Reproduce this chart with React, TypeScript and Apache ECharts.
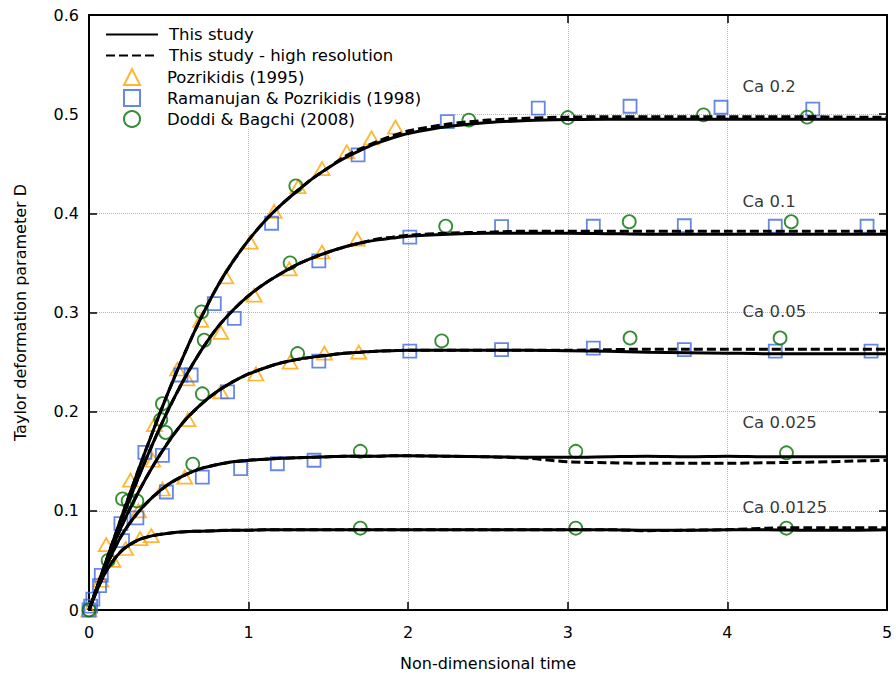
import React, { useEffect, useRef } from "react";
import * as echarts from "echarts";

// Non-dimensional time samples shared by every simulation curve
const timeGrid = [
  0, 0.1, 0.2, 0.3, 0.4, 0.5, 0.6, 0.7, 0.8, 0.9, 1.0, 1.1, 1.2, 1.3, 1.4, 1.5, 1.6, 1.7, 1.8, 1.9, 2.0,
  2.25, 2.5, 2.75, 3.0, 3.25, 3.5, 3.75, 4.0, 4.25, 4.5, 4.75, 5.0,
];

// Taylor deformation D for each capillary number (standard resolution)
const ca02Solid = [
  0, 0.046, 0.092, 0.137, 0.180, 0.221, 0.259, 0.294, 0.325, 0.351, 0.373, 0.392, 0.408, 0.422, 0.435, 0.446, 0.4555, 0.4635, 0.4705, 0.476, 0.4805,
  0.4875, 0.4915, 0.4935, 0.4945, 0.495, 0.495, 0.495, 0.495, 0.495, 0.495, 0.495, 0.495,
];
const ca01Solid = [
  0, 0.045, 0.089, 0.130, 0.168, 0.203, 0.234, 0.261, 0.284, 0.302, 0.317, 0.329, 0.339, 0.348, 0.355, 0.361, 0.366, 0.370, 0.373, 0.375, 0.377,
  0.379, 0.380, 0.380, 0.380, 0.3795, 0.379, 0.379, 0.379, 0.379, 0.379, 0.379, 0.379,
];
const ca005Solid = [
  0, 0.044, 0.083, 0.116, 0.145, 0.170, 0.191, 0.207, 0.220, 0.230, 0.238, 0.244, 0.249, 0.2525, 0.255, 0.257, 0.259, 0.260, 0.261, 0.2615, 0.262,
  0.262, 0.262, 0.262, 0.2615, 0.261, 0.260, 0.2595, 0.259, 0.2585, 0.2585, 0.2585, 0.2585,
];
const ca0025Solid = [
  0, 0.041, 0.074, 0.097, 0.114, 0.127, 0.136, 0.1425, 0.1465, 0.1495, 0.151, 0.152, 0.153, 0.1535, 0.154, 0.1545, 0.155, 0.155, 0.155, 0.1555, 0.1555,
  0.155, 0.1545, 0.154, 0.154, 0.1545, 0.155, 0.1545, 0.155, 0.1545, 0.1545, 0.1545, 0.1545,
];
const ca00125Solid = [
  0, 0.037, 0.059, 0.070, 0.075, 0.0775, 0.079, 0.0795, 0.080, 0.0805, 0.0805, 0.081, 0.081, 0.081, 0.081, 0.081, 0.081, 0.081, 0.081, 0.081, 0.081,
  0.081, 0.081, 0.081, 0.081, 0.081, 0.0805, 0.0805, 0.081, 0.081, 0.0805, 0.0805, 0.081,
];

// Same runs at high resolution
const ca02Dashed = [
  0, 0.046, 0.092, 0.137, 0.180, 0.221, 0.259, 0.294, 0.325, 0.351, 0.373, 0.392, 0.408, 0.422, 0.435, 0.446, 0.457, 0.465, 0.472, 0.478, 0.483,
  0.490, 0.494, 0.496, 0.497, 0.4975, 0.4975, 0.4975, 0.4975, 0.4975, 0.4975, 0.497, 0.497,
];
const ca01Dashed = [
  0, 0.045, 0.089, 0.130, 0.168, 0.203, 0.234, 0.261, 0.284, 0.302, 0.317, 0.329, 0.339, 0.348, 0.355, 0.361, 0.366, 0.370, 0.374, 0.376, 0.378,
  0.380, 0.381, 0.382, 0.382, 0.382, 0.382, 0.382, 0.382, 0.382, 0.382, 0.382, 0.382,
];
const ca005Dashed = [
  0, 0.044, 0.083, 0.116, 0.145, 0.170, 0.191, 0.207, 0.220, 0.230, 0.238, 0.244, 0.249, 0.2525, 0.255, 0.257, 0.259, 0.260, 0.261, 0.2615, 0.262,
  0.262, 0.262, 0.262, 0.262, 0.2625, 0.263, 0.263, 0.263, 0.263, 0.263, 0.263, 0.263,
];
const ca0025Dashed = [
  0, 0.041, 0.074, 0.097, 0.114, 0.127, 0.136, 0.1425, 0.1465, 0.1495, 0.151, 0.152, 0.153, 0.1535, 0.154, 0.1545, 0.155, 0.155, 0.155, 0.1555, 0.1555,
  0.155, 0.1545, 0.153, 0.1495, 0.1485, 0.148, 0.148, 0.148, 0.1485, 0.149, 0.150, 0.151,
];
const ca00125Dashed = [
  0, 0.037, 0.059, 0.070, 0.075, 0.0775, 0.079, 0.0795, 0.080, 0.0805, 0.0805, 0.081, 0.081, 0.081, 0.081, 0.081, 0.081, 0.081, 0.081, 0.081, 0.081,
  0.081, 0.081, 0.081, 0.081, 0.081, 0.080, 0.0805, 0.081, 0.0825, 0.083, 0.083, 0.083,
];

// Reference data sets: [time, D]
const pozrikidis1995 = [
  [0, 0], [0.075, 0.030], [0.108, 0.066], [0.15, 0.050], [0.23, 0.062], [0.26, 0.131], [0.31, 0.100],
  [0.32, 0.072], [0.39, 0.075], [0.40, 0.151], [0.41, 0.187], [0.46, 0.122], [0.555, 0.243], [0.60, 0.134],
  [0.614, 0.233], [0.62, 0.192], [0.70, 0.292], [0.826, 0.280], [0.826, 0.220], [0.857, 0.336], [1.01, 0.371],
  [1.035, 0.3175], [1.046, 0.238], [1.16, 0.402], [1.255, 0.344], [1.26, 0.250], [1.31, 0.427], [1.46, 0.445],
  [1.46, 0.361], [1.475, 0.259], [1.615, 0.462], [1.68, 0.374], [1.69, 0.260], [1.77, 0.476], [1.92, 0.487],
];
const ramanujan1998 = [
  [0, 0], [0.01, 0.004], [0.024, 0.011], [0.066, 0.0245], [0.077, 0.035], [0.20, 0.087], [0.21, 0.070],
  [0.30, 0.093], [0.35, 0.159], [0.46, 0.156], [0.485, 0.119], [0.576, 0.237], [0.64, 0.237], [0.71, 0.134],
  [0.785, 0.309], [0.868, 0.220], [0.91, 0.294], [0.95, 0.1425], [1.144, 0.390], [1.18, 0.1475], [1.41, 0.151],
  [1.44, 0.352], [1.44, 0.251], [1.686, 0.459], [2.01, 0.376], [2.01, 0.261], [2.245, 0.4925], [2.585, 0.3865],
  [2.585, 0.2626], [2.815, 0.506], [3.16, 0.387], [3.16, 0.264], [3.39, 0.508], [3.73, 0.3875], [3.73, 0.2626],
  [3.96, 0.507], [4.30, 0.387], [4.30, 0.261], [4.535, 0.505], [4.875, 0.387], [4.90, 0.261],
];
const doddiBagchi2008 = [
  [0, 0], [0.12, 0.050], [0.21, 0.112], [0.245, 0.110], [0.30, 0.110], [0.45, 0.192], [0.46, 0.208],
  [0.48, 0.179], [0.65, 0.147], [0.705, 0.3006], [0.71, 0.218], [0.722, 0.272], [1.26, 0.350], [1.296, 0.4276],
  [1.307, 0.2586], [1.70, 0.160], [1.70, 0.0825], [2.21, 0.2713], [2.235, 0.387], [2.38, 0.494], [3.0, 0.4966],
  [3.05, 0.160], [3.05, 0.0825], [3.385, 0.3915], [3.39, 0.2743], [3.85, 0.4993], [4.33, 0.2743], [4.37, 0.1585],
  [4.37, 0.0825], [4.40, 0.3915], [4.5, 0.497],
];

// Curve annotations
const caLabels = ["Ca 0.2", "Ca 0.1", "Ca 0.05", "Ca 0.025", "Ca 0.0125"];
const caLabelTime = [4.095, 4.095, 4.095, 4.095, 4.095];
const caLabelD = [0.528, 0.4115, 0.301, 0.189, 0.1033];

const lineLegendNames = ["This study", "This study - high resolution"];
const markerLegendNames = ["Pozrikidis (1995)", "Ramanujan & Pozrikidis (1998)", "Doddi & Bagchi (2008)"];

const FONT = "DejaVu Sans";

const zipTime = (vals: number[]) => timeGrid.map((t, i) => [t, vals[i]]);

export default function App() {
  const ref = useRef<HTMLDivElement>(null);

  useEffect(() => {
    document.body.style.margin = "0";
    const chart = echarts.init(ref.current!, null, { renderer: "svg" });

    const solidCurves = [ca02Solid, ca01Solid, ca005Solid, ca0025Solid, ca00125Solid];
    const dashedCurves = [ca02Dashed, ca01Dashed, ca005Dashed, ca0025Dashed, ca00125Dashed];

    const lineSeries = (name: string, vals: number[], dashed: boolean) => ({
      name,
      type: "line",
      data: zipTime(vals),
      symbol: "none",
      showSymbol: false,
      smooth: 0.3,
      z: dashed ? 4 : 3,
      itemStyle: { color: "#000" },
      lineStyle: { color: "#000", width: 3, type: dashed ? [9, 4] : "solid" },
    });

    const markerSeries = (name: string, data: number[][], symbol: string, size: any, color: string) => ({
      name,
      type: "scatter",
      data,
      symbol,
      symbolSize: size,
      z: 2,
      itemStyle: { color: "rgba(0,0,0,0)", borderColor: color, borderWidth: 1.8 },
    });

    const axisLine = { show: true, onZero: false, lineStyle: { color: "#000", width: 2 } };
    const axisTick = { show: true, inside: true, length: 8, lineStyle: { color: "#000", width: 1.5 } };
    const gridLine = { show: true, lineStyle: { color: "#b4b4b4", type: "dotted", width: 1 } };
    const tickFont = { fontFamily: FONT, fontSize: 16, color: "#000" };
    const legendText = { fontFamily: FONT, fontSize: 16.5, color: "#000", lineHeight: 21 };

    const hiddenSymbol = { color: "rgba(0,0,0,0)", borderWidth: 0, opacity: 0 };

    const option: any = {
      animation: false,
      backgroundColor: "#fff",
      grid: { left: 89, right: 9, top: 15, bottom: 67, containLabel: false },
      legend: [
        {
          // line samples; its white box spans the whole key
          data: lineLegendNames.map((name) => ({ name, itemStyle: hiddenSymbol })),
          orient: "vertical",
          left: 90,
          top: 16,
          padding: [8, 58, 63, 15],
          itemWidth: 52,
          itemHeight: 16,
          itemGap: 0,
          backgroundColor: "#fff",
          z: 1,
          selectedMode: false,
          textStyle: { ...legendText, padding: [0, 0, 0, 6] },
        },
        {
          // marker samples
          data: markerLegendNames,
          orient: "vertical",
          left: 123,
          top: 66.5,
          padding: 0,
          itemWidth: 16,
          itemHeight: 16,
          itemGap: 0,
          z: 2,
          selectedMode: false,
          textStyle: { ...legendText, padding: [0, 0, 0, 22] },
        },
      ],
      xAxis: [
        {
          type: "value", min: 0, max: 5, interval: 1, position: "bottom",
          name: "Non-dimensional time", nameLocation: "middle", nameGap: 45,
          nameTextStyle: { fontFamily: FONT, fontSize: 16, color: "#000" },
          axisLine, axisTick,
          axisLabel: { ...tickFont, margin: 14 },
          splitLine: gridLine,
        },
        {
          type: "value", min: 0, max: 5, interval: 1, position: "top",
          axisLine, axisTick, axisLabel: { show: false }, splitLine: { show: false },
        },
      ],
      yAxis: [
        {
          type: "value", min: 0, max: 0.6, interval: 0.1, position: "left",
          name: "Taylor deformation parameter D", nameLocation: "middle", nameGap: 61,
          nameTextStyle: { fontFamily: FONT, fontSize: 16, color: "#000" },
          axisLine, axisTick,
          axisLabel: { ...tickFont, margin: 10, formatter: (v: number) => (v === 0 ? "0" : v.toFixed(1)) },
          splitLine: gridLine,
        },
        {
          type: "value", min: 0, max: 0.6, interval: 0.1, position: "right",
          axisLine, axisTick, axisLabel: { show: false }, splitLine: { show: false },
        },
      ],
      series: [
        ...solidCurves.map((c) => lineSeries(lineLegendNames[0], c, false)),
        ...dashedCurves.map((c) => lineSeries(lineLegendNames[1], c, true)),
        markerSeries(markerLegendNames[0], pozrikidis1995, "triangle", [15, 13], "#FFA500"),
        markerSeries(markerLegendNames[1], ramanujan1998, "rect", 13, "#4169E1"),
        markerSeries(markerLegendNames[2], doddiBagchi2008, "circle", 13, "#007000"),
        {
          name: "annotations",
          type: "scatter",
          silent: true,
          symbolSize: 0,
          z: 5,
          data: caLabels.map((n, i) => ({ name: n, value: [caLabelTime[i], caLabelD[i]] })),
          label: {
            show: true, position: "right", distance: 0, formatter: "{b}",
            fontFamily: FONT, fontSize: 16.5, color: "#000",
          },
        },
      ],
    };

    chart.setOption(option);
    return () => chart.dispose();
  }, []);

  return <div ref={ref} style={{ width: 896, height: 677 }} />;
}
